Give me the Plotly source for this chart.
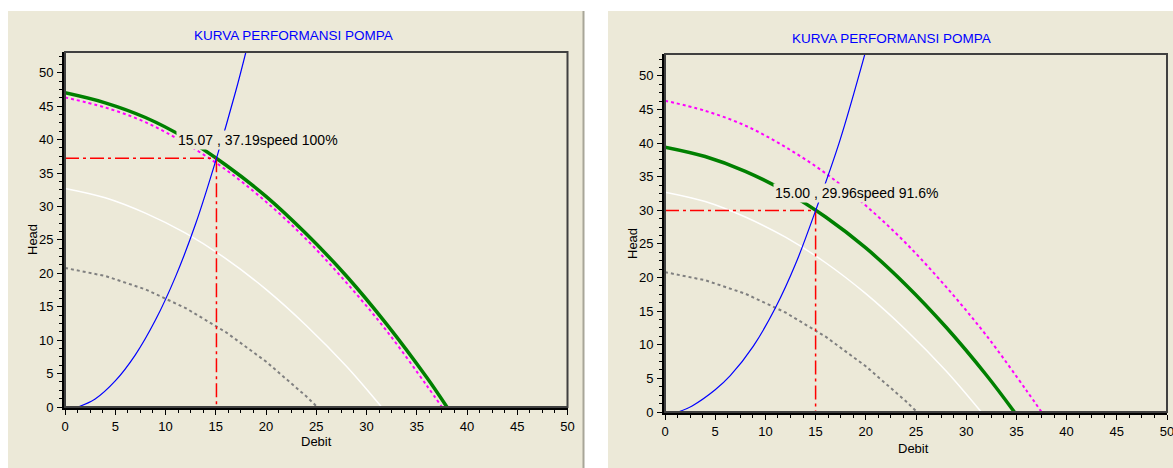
import plotly.graph_objects as go

# ---------------- data ----------------
# Debit (Q) / Head (H)
q_speed100 = [0, 4, 8, 12, 16, 20, 24, 28, 32, 36, 38]
h_speed100 = [47.0, 45.5, 43.3, 40.2, 36.2, 31.5, 25.9, 19.6, 12.4, 4.4, 0.0]

q_magenta = [0, 4, 8, 12, 16, 20, 24, 28, 32, 36, 37.5]
h_magenta = [46.3, 44.8, 42.6, 39.4, 35.5, 30.7, 25.1, 18.6, 11.4, 3.2, 0.0]

q_speed916 = [0, 4, 8, 12, 16, 20, 24, 28, 32, 34.8]
h_speed916 = [39.4, 38.0, 35.8, 32.8, 29.0, 24.4, 18.9, 12.6, 5.5, 0.0]

q_white = [0, 4, 8, 12, 16, 20, 24, 28, 31.5]
h_white = [32.7, 31.3, 29.0, 26.0, 22.2, 17.6, 12.2, 6.1, 0.0]

q_gray = [0, 4, 8, 12, 16, 20, 24, 25.1]
h_gray = [20.8, 19.6, 17.6, 14.8, 11.2, 6.8, 1.6, 0.0]

q_sys_left = [1.3, 3, 5, 7, 9, 11, 13, 15.07, 17, 18]
h_sys_left = [0.0, 1.2, 3.9, 7.8, 13.0, 19.5, 27.4, 37.19, 47.3, 53.1]

q_sys_right = [1.3, 2.7, 5, 6.5, 8.8, 11, 13, 15, 17.4, 19.9]
h_sys_right = [0.0, 0.9, 3.3, 5.4, 9.8, 15.5, 22.0, 29.96, 40.3, 53.2]

op_left = (15.07, 37.19)
op_right = (15.00, 29.96)
label_left = "15.07 , 37.19speed 100%"
label_right = "15.00 , 29.96speed 91.6%"

title_text = "KURVA PERFORMANSI POMPA"
x_title = "Debit"
y_title = "Head"
x_ticks = [0, 5, 10, 15, 20, 25, 30, 35, 40, 45, 50]
y_ticks = [0, 5, 10, 15, 20, 25, 30, 35, 40, 45, 50]

# ---------------- styling ----------------
# figure is a little wider than the 1173px window so the last tick label is
# drawn and then cut by the window edge, as in the original
W, H = 1185, 468
BEIGE = "#ECE9D8"
FONT = "Liberation Sans, Arial, sans-serif"
RED_DASH = "14px,4px,3px,4px"

def px_x(p):
    return p / W

def px_y(p):
    return 1 - p / H

fig = go.Figure()

def add_panel(xa, ya, q_pump, h_pump, q_sys, h_sys, op, label, label_pos):
    kw = dict(xaxis=xa, yaxis=ya, mode="lines", showlegend=False, hoverinfo="skip")
    fig.add_trace(go.Scatter(x=q_gray, y=h_gray, line=dict(color="#808080", width=2, dash="dot"), **kw))
    fig.add_trace(go.Scatter(x=q_white, y=h_white, line=dict(color="#FFFFFF", width=1.5, shape="spline"), **kw))
    fig.add_trace(go.Scatter(x=q_magenta, y=h_magenta, line=dict(color="#FF00FF", width=2, dash="dot", shape="spline"), **kw))
    fig.add_trace(go.Scatter(x=q_pump, y=h_pump, line=dict(color="#008000", width=3.5, shape="spline"), **kw))
    fig.add_trace(go.Scatter(x=[0, op[0]], y=[op[1], op[1]], line=dict(color="#FF0000", width=1.5, dash=RED_DASH), **kw))
    fig.add_trace(go.Scatter(x=[op[0], op[0]], y=[op[1], 0], line=dict(color="#FF0000", width=1.5, dash=RED_DASH), **kw))
    fig.add_trace(go.Scatter(x=q_sys, y=h_sys, line=dict(color="#0000FF", width=1.2, shape="spline"), **kw))
    fig.add_annotation(x=label_pos[0], y=label_pos[1], xref=xa, yref=ya, text=label,
                       showarrow=False, xanchor="left", yanchor="middle",
                       font=dict(family=FONT, size=14, color="#000000"),
                       bgcolor=BEIGE, borderpad=1)

add_panel("x", "y", q_speed100, h_speed100, q_sys_left, h_sys_left, op_left, label_left, (11.05, 40.0))
add_panel("x2", "y2", q_speed916, h_speed916, q_sys_right, h_sys_right, op_right, label_right, (10.8, 32.6))

# panel backgrounds
shapes = [
    dict(type="rect", xref="paper", yref="paper", x0=px_x(8), x1=px_x(584), y0=-0.1, y1=px_y(11),
         fillcolor=BEIGE, line=dict(width=0), layer="below"),
    dict(type="line", xref="paper", yref="paper", x0=px_x(583.5), x1=px_x(583.5), y0=-0.1, y1=px_y(11),
         line=dict(color="#A8A698", width=2), layer="below"),
    dict(type="rect", xref="paper", yref="paper", x0=px_x(608), x1=1.1, y0=-0.1, y1=px_y(11),
         fillcolor=BEIGE, line=dict(width=0), layer="below"),
]
for xa, ya in (("x", "y"), ("x2", "y2")):
    shapes.append(dict(type="rect", xref=f"{xa} domain", yref=f"{ya} domain", x0=0, x1=1, y0=0, y1=1,
                       line=dict(color="#404040", width=2), layer="above"))
fig.update_layout(shapes=shapes)

axis_common = dict(
    showgrid=False, zeroline=False, showline=True, linecolor="#000000", linewidth=3,
    ticks="outside", ticklen=5, tickwidth=1, tickcolor="#000000",
    tickfont=dict(family=FONT, size=13, color="#000000"),
    minor=dict(dtick=1.25, ticks="outside", ticklen=3, tickcolor="#000000", tickwidth=1),
    fixedrange=True, automargin=False,
)

fig.update_layout(
    width=W, height=H, autosize=False,
    margin=dict(l=0, r=0, t=0, b=0, pad=0),
    paper_bgcolor="#FFFFFF", plot_bgcolor=BEIGE,
    showlegend=False,
    xaxis=dict(domain=[px_x(65), px_x(567.5)], range=[0, 50], anchor="y", tickvals=x_ticks, **axis_common),
    yaxis=dict(domain=[px_y(407), px_y(52)], range=[0, 53.1], anchor="x", tickvals=y_ticks, ticklabelstandoff=1, **axis_common),
    xaxis2=dict(domain=[px_x(665), px_x(1167)], range=[0, 50], anchor="y2", tickvals=x_ticks, **axis_common),
    yaxis2=dict(domain=[px_y(412), px_y(54)], range=[0, 53.25], anchor="x2", tickvals=y_ticks, ticklabelstandoff=1, **axis_common),
)

# titles and axis titles as paper annotations
def paper_text(x, y, text, color="#000000", size=13, angle=0):
    fig.add_annotation(x=px_x(x), y=px_y(y), xref="paper", yref="paper", text=text, showarrow=False,
                       xanchor="center", yanchor="middle", textangle=angle,
                       font=dict(family=FONT, size=size, color=color))

paper_text(293, 36, title_text, color="#0000FF", size=13.5)
paper_text(891, 38, title_text, color="#0000FF", size=13.5)
paper_text(316, 441, x_title)
paper_text(913, 448, x_title)
paper_text(33, 240, y_title, angle=-90)
paper_text(632, 244, y_title, angle=-90)

# remove the default page margin so the figure starts at the window's top-left corner
fig.write_html(
    "out.html",
    config={"displayModeBar": False},
    post_script="document.body.style.margin='0px';document.documentElement.style.overflow='hidden';",
)
